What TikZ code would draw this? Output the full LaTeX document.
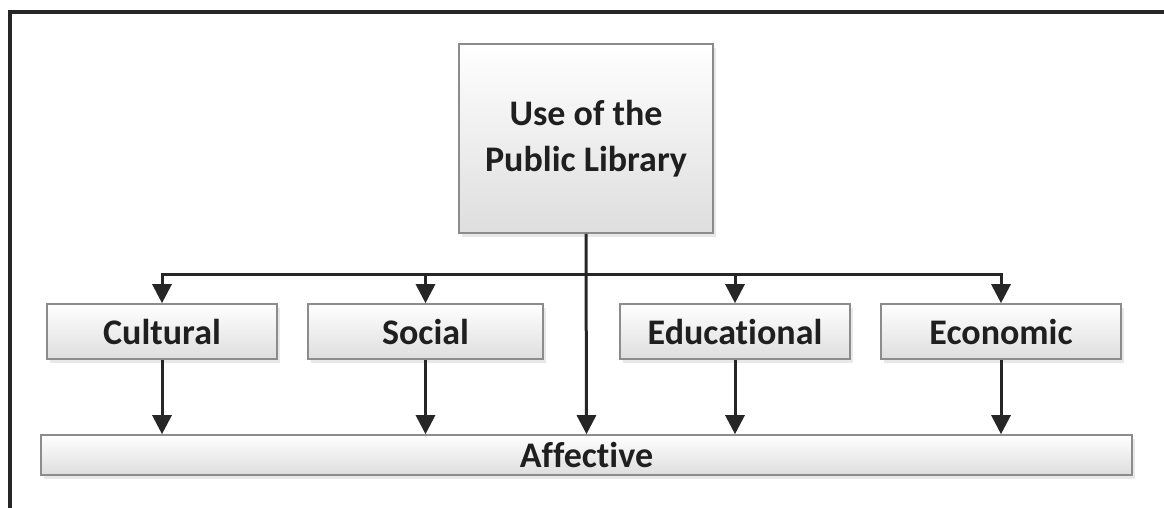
\documentclass[tikz,border=0pt]{standalone}
\usepackage{fontspec}
\setmainfont[Ligatures=NoCommon]{Carlito}
\usetikzlibrary{arrows.meta,shadows}
\begin{document}
\begin{tikzpicture} [
                x=1pt, y=-1pt,
                box/.style={draw=black!45, line width=1.6pt, top color=white, bottom color=black!13,
                    drop shadow={opacity=0.18, shadow xshift=3pt, shadow yshift=-4pt},
                    inner sep=0pt, font=\fontsize{36}{46}\selectfont\bfseries, text=black!88},
                link/.style = {draw=black!85, line width=3pt, -{Triangle[width=19pt,length=19pt]}},
            ]
            \useasboundingbox (0,0) rectangle (1164,508);
            % outer frame
            \draw[black!85, line width=3.5pt] (10,510) -- (10,12) -- (1166,12);
            % top and bottom boxes
            \node[box, minimum width=254pt, minimum height=189pt, align=center] (use) at (586,138.5)
                {Use of the\\Public Library};
            \node[box, minimum width=1091pt, minimum height=40pt] (affective) at (586.5,455) {Affective};
            % the four middle boxes
            \foreach \pos/\name/\label/\w in {
                    {(162,331.5)/cultural/Cultural/230}, {(425.5,331.5)/social/Social/235},
                    {(735,331.5)/educational/Educational/230}, {(1001,331.5)/economic/Economic/240}}
                \node[box, minimum width=\w pt, minimum height=55pt] (\name) at \pos {\label};
            \coordinate (split) at (586,274);
            % connect top box to the middle boxes and to the bottom box
            \foreach \name in {cultural, social, educational, economic}
                \path[link] (split) -| (\name.north);
            \path[link] (use.south) -- (affective.north);
            \foreach \name in {cultural, social, educational, economic}
                \path[link] (\name.south) -- (\name.south |- affective.north);
        \end{tikzpicture}
\end{document}
